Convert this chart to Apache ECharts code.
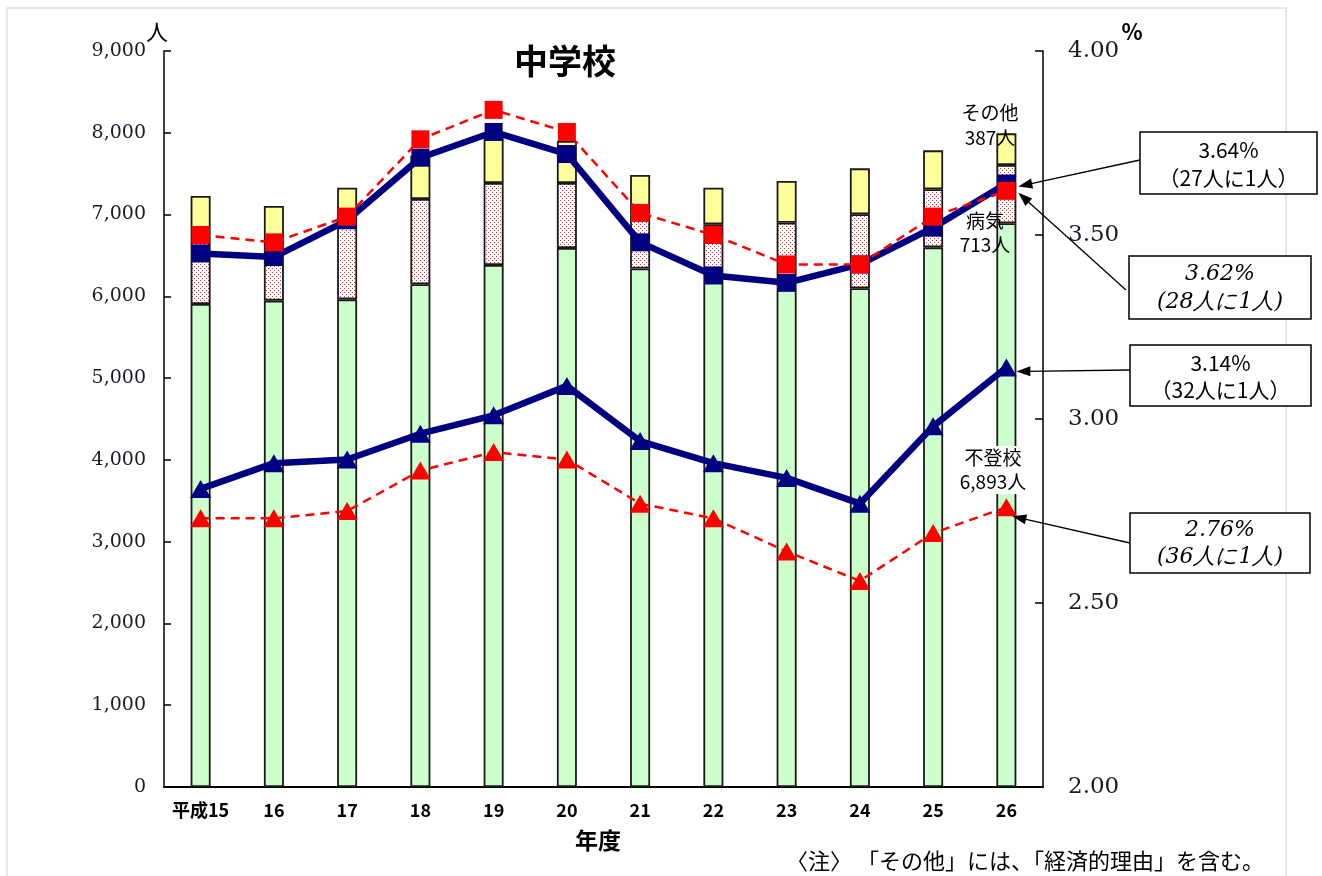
<!DOCTYPE html>
<html>
<head>
<meta charset="utf-8">
<script src="https://cdn.jsdelivr.net/npm/echarts@6/dist/echarts.min.js"></script>
<style>
html,body{margin:0;padding:0;background:#fff;}
#chart{width:1322px;height:876px;}
</style>
</head>
<body>
<div id="chart"></div>
<script>
// ---- data ----
const years = ['平成15','16','17','18','19','20','21','22','23','24','25','26'];
const futoko = [5906, 5947, 5963, 6147, 6383, 6591, 6341, 6200, 6110, 6098, 6599, 6893];
const byoki  = [794, 693, 897, 1043, 1003, 795, 659, 680, 790, 905, 710, 713];
const sonota = [527, 465, 469, 530, 604, 514, 483, 449, 510, 562, 476, 387];
const prefLongRate = [3.45, 3.44, 3.54, 3.71, 3.78, 3.72, 3.48, 3.39, 3.37, 3.42, 3.52, 3.64];
const natLongRate  = [3.50, 3.48, 3.55, 3.76, 3.84, 3.78, 3.56, 3.50, 3.42, 3.42, 3.55, 3.62];
const prefFutokoRate = [2.81, 2.88, 2.89, 2.96, 3.01, 3.09, 2.94, 2.88, 2.84, 2.77, 2.98, 3.14];
const natFutokoRate  = [2.73, 2.73, 2.75, 2.86, 2.91, 2.89, 2.77, 2.73, 2.64, 2.56, 2.69, 2.76];
const leftTicks = [0, 1000, 2000, 3000, 4000, 5000, 6000, 7000, 8000, 9000];
const rightTicks = [2.00, 2.50, 3.00, 3.50, 4.00];

// dotted pattern for 病気
const pc = document.createElement('canvas');
pc.width = 4; pc.height = 4;
const pctx = pc.getContext('2d');
pctx.fillStyle = '#ffffff'; pctx.fillRect(0,0,4,4);
pctx.fillStyle = '#b83a3a';
pctx.fillRect(0,0,1,1); pctx.fillRect(2,2,1,1);

const GOTHIC = '"Noto Sans CJK JP", "Noto Sans", sans-serif';
const SERIF = '"DejaVu Serif", "Liberation Serif", serif';

const chart = echarts.init(document.getElementById('chart'));
const barCommon = {
  type: 'bar', stack: 'total', barWidth: 20, yAxisIndex: 0, z: 2,
};
const option = {
  animation: false,
  backgroundColor: '#ffffff',
  grid: { left: 164, right: 279, top: 51, bottom: 89, containLabel: false },
  xAxis: {
    type: 'category', data: years, boundaryGap: true,
    axisLine: { lineStyle: { color: '#000', width: 2 } },
    axisTick: { inside: true, length: 7, interval: 0, lineStyle: { color: '#000', width: 1.5 } },
    axisLabel: { color: '#000', fontFamily: GOTHIC, fontSize: 18, fontWeight: 'bold', margin: 14, interval: 0 },
  },
  yAxis: [
    {
      type: 'value', min: 0, max: 9000, interval: 1000, position: 'left',
      axisLine: { show: true, lineStyle: { color: '#000', width: 1.5 } },
      axisTick: { show: true, inside: true, length: 7, lineStyle: { color: '#000', width: 1.5 } },
      splitLine: { show: false },
      axisLabel: { color: '#1a1a2a', fontFamily: SERIF, fontSize: 19, margin: 18,
        formatter: v => leftTicks.includes(v) ? v.toLocaleString('en-US') : '' },
    },
    {
      type: 'value', min: 2, max: 4, interval: 0.5, position: 'right',
      axisLine: { show: true, lineStyle: { color: '#000', width: 1.5 } },
      axisTick: { show: true, inside: true, length: 8, lineStyle: { color: '#000', width: 1.5 } },
      splitLine: { show: false },
      axisLabel: { color: '#1a1a2a', fontFamily: SERIF, fontSize: 23, margin: 25,
        formatter: v => rightTicks.some(t => Math.abs(t - v) < 1e-9) ? v.toFixed(2) : '' },
    },
  ],
  series: [
    Object.assign({}, barCommon, { name: '不登校', data: futoko,
      itemStyle: { color: '#ccffcc', borderColor: '#1a1a1a', borderWidth: 1.8 } }),
    Object.assign({}, barCommon, { name: '病気', data: byoki,
      itemStyle: { color: { image: pc, repeat: 'repeat' }, borderColor: '#1a1a1a', borderWidth: 1.8 } }),
    Object.assign({}, barCommon, { name: 'その他', data: sonota,
      itemStyle: { color: '#ffff99', borderColor: '#1a1a1a', borderWidth: 1.8 } }),
    {
      name: '長期欠席率(県)', type: 'line', yAxisIndex: 1, data: prefLongRate, z: 5,
      symbol: 'rect', symbolSize: 18,
      lineStyle: { color: '#000080', width: 6.5 }, itemStyle: { color: '#000080' },
    },
    {
      name: '不登校率(県)', type: 'line', yAxisIndex: 1, data: prefFutokoRate, z: 5,
      symbol: 'triangle', symbolSize: [21, 18],
      lineStyle: { color: '#000080', width: 6.5 }, itemStyle: { color: '#000080' },
    },
    {
      name: '長期欠席率(全国)', type: 'line', yAxisIndex: 1, data: natLongRate, z: 6,
      symbol: 'rect', symbolSize: 18,
      lineStyle: { color: '#ff0000', width: 2.5, type: [9, 6] }, itemStyle: { color: '#ff0000' },
    },
    {
      name: '不登校率(全国)', type: 'line', yAxisIndex: 1, data: natFutokoRate, z: 6,
      symbol: 'triangle', symbolSize: [21, 18],
      lineStyle: { color: '#ff0000', width: 2.5, type: [9, 6] }, itemStyle: { color: '#ff0000' },
    },
  ],
};
chart.setOption(option);

// ---- annotations ----
const g = [];
g.push({ type: 'rect', z: -10, shape: { x: 7, y: 8, width: 1279, height: 900 },
  style: { fill: 'none', stroke: '#dedede', lineWidth: 1.5 }, silent: true });
function txt(x, y, text, opts) {
  g.push({ type: 'text', x: x, y: y, z: 50,
    style: Object.assign({ text: text, fill: '#000', font: '16px ' + GOTHIC,
      textAlign: 'center', textVerticalAlign: 'middle' }, opts || {}) });
}
txt(157, 32, '人', { font: '22px ' + GOTHIC });
txt(1132, 32, '%', { font: 'bold 22px ' + GOTHIC });
txt(565, 61, '中学校', { font: 'bold 34px ' + GOTHIC });
txt(598, 840, '年度', { font: 'bold 23px ' + GOTHIC });
txt(1264, 861, '〈注〉 「その他」には、「経済的理由」を含む。', { font: '22px ' + GOTHIC, textAlign: 'right' });
txt(990, 113, 'その他', { font: '19px ' + GOTHIC });
txt(990, 138, '387人', { font: '19px ' + GOTHIC });
txt(985, 221, '病気', { font: '19px ' + GOTHIC });
txt(985, 245, '713人', { font: '19px ' + GOTHIC });
g.push({ type: 'rect', z: 40, shape: { x: 955, y: 446, width: 76, height: 48 },
  style: { fill: '#ffffff', stroke: 'none' } });
txt(993, 458, '不登校', { font: '19px ' + GOTHIC });
txt(993, 482, '6,893人', { font: '19px ' + GOTHIC });

function box(x, y, w, h, l1, l2, italic) {
  g.push({ type: 'rect', z: 60, shape: { x: x, y: y, width: w, height: h },
    style: { fill: '#fff', stroke: '#000', lineWidth: 1.5 } });
  const f = italic ? ('italic 22px ' + '"DejaVu Serif", serif') : ('21px ' + GOTHIC);
  g.push({ type: 'text', z: 61, x: x + w / 2, y: y + h * 0.29,
    style: { text: l1, font: f, fill: '#000', textAlign: 'center', textVerticalAlign: 'middle' } });
  g.push({ type: 'text', z: 61, x: x + w / 2, y: y + h * 0.74,
    style: { text: l2, font: f, fill: '#000', textAlign: 'center', textVerticalAlign: 'middle' } });
}
box(1140, 132, 177, 62, '3.64%', '（27人に1人）', false);
box(1129, 256, 182, 63, '3.62%', '(28人に1人)', true);
box(1130, 345, 181, 61, '3.14%', '（32人に1人）', false);
box(1130, 513, 180, 60, '2.76%', '(36人に1人)', true);

function arrow(sx, sy, tip) {
  const tx = tip[0], ty = tip[1];
  const dx = tx - sx, dy = ty - sy;
  const len = Math.sqrt(dx * dx + dy * dy);
  const ux = dx / len, uy = dy / len, nx = -uy, ny = ux;
  const L = 14, W = 5;
  g.push({ type: 'line', z: 55, shape: { x1: sx, y1: sy, x2: tx - ux * L * 0.6, y2: ty - uy * L * 0.6 },
    style: { stroke: '#000', lineWidth: 1.3 } });
  g.push({ type: 'polygon', z: 55, shape: { points: [
    [tx, ty], [tx - ux * L + nx * W, ty - uy * L + ny * W], [tx - ux * L - nx * W, ty - uy * L - ny * W]] },
    style: { fill: '#000' } });
}
const last = years.length - 1;
function px(v) { return chart.convertToPixel({ xAxisIndex: 0, yAxisIndex: 1 }, [last, v]); }
const p1 = px(prefLongRate[last]);
const p2 = px(natLongRate[last]);
const p3 = px(prefFutokoRate[last]);
const p4 = px(natFutokoRate[last]);
arrow(1140, 160, [p1[0] + 12, p1[1] + 3]);
arrow(1126, 290, [p2[0] + 12, p2[1] + 2]);
arrow(1130, 370, [p3[0] + 10, p3[1] + 4]);
arrow(1130, 543, [p4[0] + 6, p4[1] + 9]);

chart.setOption({ graphic: g });
</script>
</body>
</html>
